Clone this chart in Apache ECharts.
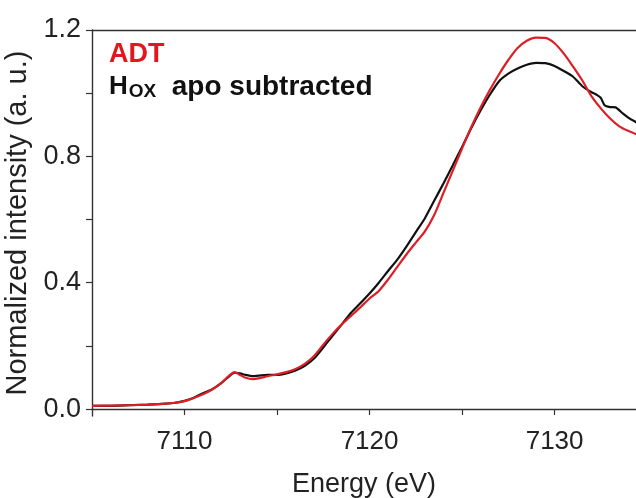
<!DOCTYPE html>
<html>
<head>
<meta charset="utf-8">
<script src="https://cdn.jsdelivr.net/npm/echarts@6/dist/echarts.min.js"></script>
<style>html,body{margin:0;padding:0;background:#fff}#c{width:636px;height:498px}</style>
</head>
<body>
<div id="c"></div>
<script>
// Energy (eV) and normalized intensity for ADT (red)
const adtE = [7105,7106,7107,7108,7109,7109.5,7110,7110.5,7111,7111.5,7112,7112.4,7112.7,7113,7113.3,7113.7,7114,7114.5,7115,7115.5,7116,7116.5,7117,7117.5,7118,7118.5,7119,7119.5,7120,7120.5,7121,7121.5,7122,7122.5,7123,7123.5,7124,7124.5,7125,7125.5,7126,7126.5,7127,7127.5,7128,7128.5,7129,7129.5,7130,7130.5,7131,7131.5,7132,7132.5,7133,7133.5,7134,7134.5];
const adtI = [0.010,0.011,0.012,0.014,0.017,0.020,0.025,0.035,0.047,0.062,0.083,0.105,0.117,0.108,0.099,0.095,0.097,0.104,0.110,0.117,0.127,0.143,0.168,0.204,0.238,0.268,0.295,0.322,0.350,0.374,0.410,0.450,0.490,0.527,0.563,0.615,0.685,0.755,0.825,0.893,0.955,1.010,1.060,1.105,1.143,1.166,1.176,1.175,1.158,1.125,1.084,1.040,0.990,0.952,0.920,0.895,0.880,0.868];
// Energy (eV) and normalized intensity for Hox apo subtracted (black)
const hoxE = [7105,7106,7107,7108,7109,7109.5,7110,7110.5,7111,7111.5,7112,7112.4,7112.7,7113,7113.3,7113.7,7114,7114.5,7115,7115.5,7116,7116.5,7117,7117.5,7118,7118.5,7119,7119.5,7120,7120.5,7121,7121.5,7122,7122.5,7123,7123.5,7124,7124.5,7125,7125.5,7126,7126.5,7127,7127.5,7128,7128.5,7129,7129.5,7130,7130.5,7131,7131.5,7132,7132.3,7132.5,7132.7,7133,7133.3,7133.7,7134,7134.5];
const hoxI = [0.010,0.010,0.012,0.014,0.017,0.020,0.026,0.036,0.050,0.063,0.083,0.103,0.115,0.113,0.108,0.104,0.106,0.108,0.108,0.113,0.122,0.137,0.160,0.195,0.232,0.268,0.305,0.335,0.366,0.400,0.437,0.473,0.515,0.560,0.605,0.660,0.715,0.772,0.830,0.890,0.945,0.995,1.038,1.062,1.078,1.090,1.096,1.095,1.086,1.070,1.052,1.022,1.003,0.994,0.985,0.962,0.956,0.955,0.935,0.922,0.905];
const yLabels = [0, 0.4, 0.8, 1.2];
const yTicks = [0, 0.2, 0.4, 0.6, 0.8, 1.0, 1.2];
const xLabels = [7110, 7120, 7130];
const xTicks = [7110, 7115, 7120, 7125, 7130];

const zip = (a, b) => a.map((v, i) => [v, b[i]]);
const chart = echarts.init(document.getElementById('c'));
const axisCol = '#333';
const font = 'Liberation Sans, Arial, sans-serif';
chart.setOption({
  animation: false,
  grid: { left: 92, right: 0, top: 30, bottom: 82, containLabel: false, outerBoundsMode: 'none' },
  xAxis: [{
    type: 'value', min: 7105, max: 7134.4,
    name: 'Energy (eV)', nameLocation: 'middle', nameGap: 55,
    nameTextStyle: { fontSize: 27, color: '#222', fontFamily: font },
    axisLine: { lineStyle: { color: axisCol, width: 1.4 } },
    axisTick: { show: true, length: 6, customValues: xTicks, lineStyle: { color: axisCol, width: 1.2 } },
    axisLabel: { customValues: xLabels, fontSize: 26, color: '#222', margin: 13, fontFamily: font,
      formatter: v => String(v) },
    splitLine: { show: false }
  }, {
    type: 'value', position: 'top', min: 7105, max: 7134.4,
    axisLine: { show: true, lineStyle: { color: axisCol, width: 1.4 } },
    axisTick: { show: false }, axisLabel: { show: false }, splitLine: { show: false }
  }],
  yAxis: {
    type: 'value', min: -0.022, max: 1.2,
    name: 'Normalized intensity (a. u.)', nameLocation: 'middle', nameGap: 55,
    nameTextStyle: { fontSize: 29, color: '#222', fontFamily: font },
    axisLine: { show: true, lineStyle: { color: axisCol, width: 1.4 } },
    axisTick: { show: true, length: 6, customValues: yTicks, lineStyle: { color: axisCol, width: 1.2 } },
    axisLabel: { customValues: yLabels, fontSize: 27, color: '#222', margin: 11, fontFamily: font,
      formatter: v => v.toFixed(1) },
    splitLine: { show: false }
  },
  graphic: [
    { type: 'text', left: 109, top: 41, style: { text: 'ADT', fill: '#e3161e', font: 'bold 27px ' + font } },
    { type: 'text', left: 109, top: 73, style: {
      text: '{h|H}{s|OX}{t|  apo subtracted}',
      rich: {
        h: { fill: '#111', font: 'bold 26px ' + font },
        s: { fill: '#111', font: 'bold 19px ' + font, verticalAlign: 'bottom', padding: [9, 0, 0, 1] },
        t: { fill: '#111', font: 'bold 28px ' + font }
      }
    } }
  ],
  series: [
    { type: 'line', name: 'Hox apo subtracted', data: zip(hoxE, hoxI), showSymbol: false, smooth: 0.2,
      lineStyle: { color: '#111', width: 2.2 }, z: 2 },
    { type: 'line', name: 'ADT', data: zip(adtE, adtI), showSymbol: false, smooth: 0.3,
      lineStyle: { color: '#dc1f26', width: 2.2 }, z: 3 }
  ]
});
</script>
</body>
</html>
